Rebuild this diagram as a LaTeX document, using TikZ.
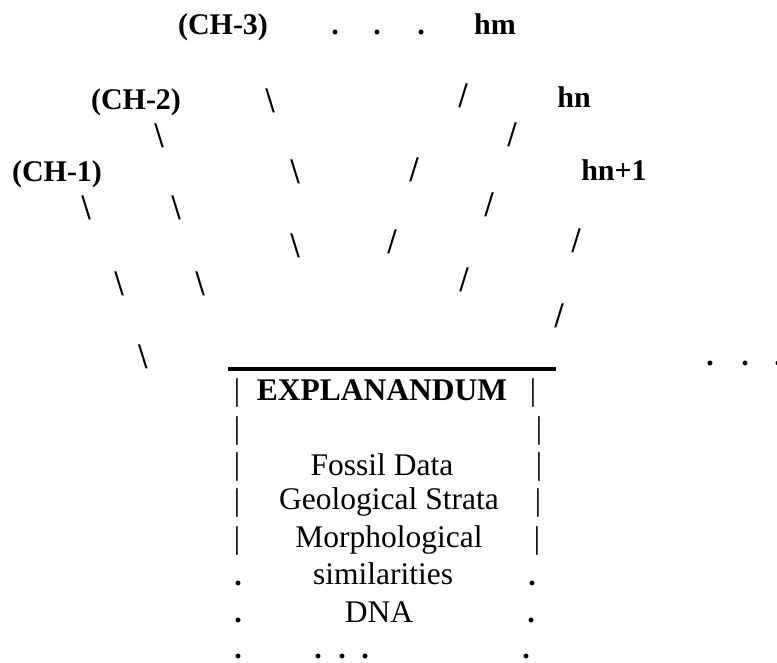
\documentclass[tikz,border=0pt]{standalone}
\usepackage{fontspec}
\setmainfont{Liberation Serif}
\begin{document}
\begin{tikzpicture}[x=1pt,y=-1pt,
  txt/.style={anchor=base,inner sep=0pt,font=\fontsize{31.5}{38}\selectfont},
  boxlbl/.style={anchor=base,inner sep=0pt,font=\bfseries\fontsize{31.5}{38}\selectfont},
  lbl/.style={anchor=base,inner sep=0pt,font=\bfseries\fontsize{30}{36}\selectfont},
  stroke/.style={anchor=base,inner sep=0pt,xscale=0.9,transform shape,
    font=\bfseries\fontsize{36}{40}\selectfont}]
\useasboundingbox (0,0) rectangle (777,663);

% hypotheses at the top
\node[lbl] (ch3) at (223,35) {(CH-3)};
\node[lbl] (d1) at (335,35) {.};
\node[lbl] (d2) at (377,35) {.};
\node[lbl] (d3) at (421,35) {.};
\node[lbl] (hm) at (495,35) {hm};

\node[lbl] (ch2) at (136,110) {(CH-2)};
\node[stroke] (b1) at (270,113) {\textbackslash};
\node[stroke] (s1) at (463,108) {/};
\node[lbl] (hn) at (574,108) {hn};

\node[stroke] (b2) at (159,148) {\textbackslash};
\node[stroke] (s2) at (512,147) {/};

\node[lbl] (ch1) at (57,182) {(CH-1)};
\node[stroke] (b3) at (295,184) {\textbackslash};
\node[stroke] (s3) at (414,182) {/};
\node[lbl] (hn1) at (614,181) {hn+1};

\node[stroke] (b4) at (86,220) {\textbackslash};
\node[stroke] (b5) at (176,220) {\textbackslash};
\node[stroke] (s4) at (489,217) {/};

\node[stroke] (b6) at (295,258) {\textbackslash};
\node[stroke] (s5) at (392,254) {/};
\node[stroke] (s6) at (576,253) {/};

\node[stroke] (b7) at (119,295) {\textbackslash};
\node[stroke] (b8) at (200,295) {\textbackslash};
\node[stroke] (s7) at (464,291) {/};

\node[stroke] (s8) at (559,327) {/};

\node[stroke] (b9) at (143,368) {\textbackslash};
\node[lbl] (e1) at (710,365) {.};
\node[lbl] (e2) at (745,365) {.};
\node[lbl] (e3) at (778,365) {.};

% rule over the explanandum box
\coordinate (ruleL) at (228,369);
\coordinate (ruleR) at (556,369);
\draw[line width=4pt] (ruleL) -- (ruleR);

% explanandum box
\node[txt] (l1) at (237,400) {|};
\node[boxlbl] (expl) at (382,400) {EXPLANANDUM};
\node[txt] (r1) at (533,400) {|};

\node[txt] (l2) at (237,438) {|};
\node[txt] (r2) at (539,438) {|};

\node[txt] (l3) at (237,474) {|};
\node[txt] (fossil) at (382,475) {Fossil Data};
\node[txt] (r3) at (539,474) {|};

\node[txt] (l4) at (237,510) {|};
\node[txt] (geo) at (389,509) {Geological Strata};
\node[txt] (r4) at (538,510) {|};

\node[txt] (l5) at (237,548) {|};
\node[txt] (morph) at (389,547) {Morphological};
\node[txt] (r5) at (537,548) {|};

\node[lbl] (l6) at (238,585) {.};
\node[txt] (sim) at (383,584) {similarities};
\node[lbl] (r6) at (532,585) {.};

\node[lbl] (l7) at (238,622) {.};
\node[txt] (dna) at (379,622) {DNA};
\node[lbl] (r7) at (531,622) {.};

\node[lbl] (l8) at (238,658) {.};
\node[lbl] (m1) at (318,658) {.};
\node[lbl] (m2) at (342,658) {.};
\node[lbl] (m3) at (365,658) {.};
\node[lbl] (r8) at (526,658) {.};
\end{tikzpicture}
\end{document}
